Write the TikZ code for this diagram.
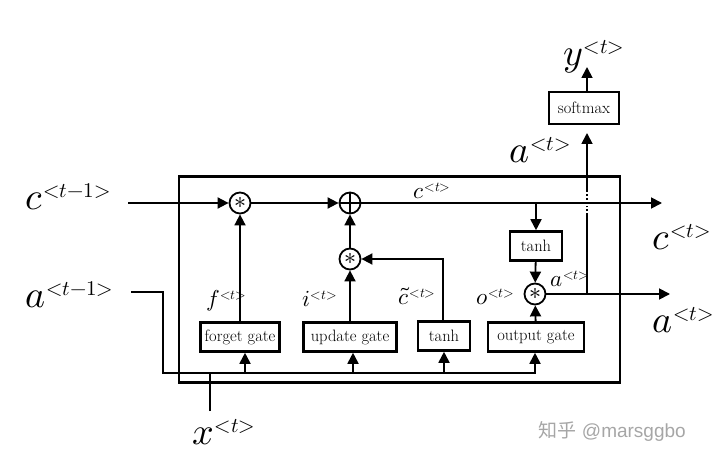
\documentclass[tikz,border=0pt]{standalone}
\usepackage{fontspec}
\usepackage{unicode-math}
\setmathfont{Latin Modern Math}
\newfontfamily\cjk{Noto Sans CJK SC}
\newfontfamily\wmfont{Liberation Sans}
\usetikzlibrary{arrows.meta}
% #1 base size, #2 sup size, #3 raise, #4 base symbol, #5 superscript
\newcommand\lstmlbl[5]{{\fontsize{#1}{#1}\selectfont$#4$}\kern0.08em\raisebox{#3}{\fontsize{#2}{#2}\selectfont${<}#5{>}$}}
\newcommand\biglbl[2]{\lstmlbl{38}{21}{12pt}{#1}{#2}}
\newcommand\smalllbl[2]{\lstmlbl{23}{13.5}{7pt}{#1}{#2}}
\begin{document}
\begin{tikzpicture}[x=1pt,y=-1pt,
  wire/.style={line width=1.8pt},
  arr/.style={wire,-{Triangle[length=11pt,width=11pt]}},
  gatebox/.style={draw,line width=2.6pt,minimum height=29pt,inner sep=1pt,font=\fontsize{16.5}{18}\selectfont},
  op/.style={draw,circle,line width=1.8pt,minimum size=21pt,inner sep=0pt,font=\fontsize{24}{24}\selectfont},
  lbl/.style={anchor=base west,inner sep=0pt}]
\useasboundingbox (0,0) rectangle (720,462);
% main cell box
\node[draw,line width=2.6pt,minimum width=441pt,minimum height=206pt,inner sep=0pt] (cell) at (399.5,279.5) {};
% operators
\node[op] (m1) at (240,203) {$\ast$};
\node[op] (p1) at (350,203) {};
\draw[wire] (p1.north) -- (p1.south) (p1.west) -- (p1.east);
\node[op] (m2) at (350,259) {$\ast$};
\node[op] (m3) at (535,294) {$\ast$};
% gate boxes
\node[gatebox,minimum width=79pt] (fg) at (240,337) {forget gate};
\node[gatebox,minimum width=93pt] (ug) at (350,337) {update gate};
\node[gatebox,minimum width=52pt] (th1) at (444,336) {tanh};
\node[gatebox,minimum width=96pt] (og) at (536,337) {output gate};
\node[gatebox,minimum width=52pt] (th2) at (536,246) {tanh};
\node[gatebox,minimum width=70pt,minimum height=32pt] (sm) at (584,108) {softmax};
% external labels
\node[lbl] (cin) at (25,210) {\biglbl{c}{t{-}1}};
\node[lbl] (ain) at (25,308) {\biglbl{a}{t{-}1}};
\node[lbl] (xin) at (192,444) {\biglbl{x}{t}};
\node[lbl] (cout) at (652,250) {\biglbl{c}{t}};
\node[lbl] (aout) at (652,332) {\biglbl{a}{t}};
\node[lbl] (aup) at (509,163) {\biglbl{a}{t}};
\node[lbl] (yout) at (563,66) {\biglbl{y}{t}};
% internal labels
\node[lbl] (fl) at (206,306) {\smalllbl{f}{t}};
\node[lbl] (il) at (302,306) {\smalllbl{i}{t}};
\node[lbl] (cl) at (398,305) {\smalllbl{\tilde{c}}{t}};
\node[lbl] (ol) at (476,305) {\smalllbl{o}{t}};
\node[lbl] (al) at (550,287) {\smalllbl{a}{t}};
\node[lbl] (cl2) at (413,199) {\smalllbl{c}{t}};
% coordinates
\coordinate (cstart) at (128,203);
\coordinate (cend) at (662,203);
\coordinate (aend) at (670,294);
\coordinate (astart) at (131,292);
\coordinate (acorner) at (163,292);
\coordinate (bl) at (163,373);
\coordinate (br) at (536,373);
\coordinate (xbot) at (210,411);
\coordinate (xtop) at (210,373);
\coordinate (vtap) at (587,294);
\coordinate (vgap1) at (587,215);
\coordinate (vgap2) at (587,190);
\coordinate (smin) at (587,133);
\coordinate (cdrop) at (536,203);
\coordinate (thtap) at (443,321);
\coordinate (thturn) at (443,259);
\coordinate (ytip) at (587,67);
% wires
\draw[arr] (cstart) -- (m1.west);
\draw[arr] (m1) -- (p1);
\draw[arr] (p1) -- (cend);
\draw[arr] (fg) -- (m1);
\draw[arr] (ug) -- (m2);
\draw[arr] (m2) -- (p1);
\draw[arr] (thtap) -- (thturn) -- (m2.east);
\draw[arr] (cdrop) -- (th2);
\draw[arr] (th2) -- (m3);
\draw[arr] (og) -- (m3);
\draw[arr] (m3) -- (aend);
\draw[wire] (vtap) -- (vgap1);
\draw[wire,dotted] (vgap1) -- (vgap2);
\draw[arr] (vgap2) -- (smin);
\draw[arr] (sm.north -| ytip) -- (ytip);
\draw[wire] (astart) -- (acorner) -- (bl) -- (br);
\draw[wire] (xbot) -- (xtop);
\draw[arr] (bl -| fg) ++(5,0) -- ([xshift=5pt]fg.south);
\draw[arr] (bl -| ug) ++(3,0) -- ([xshift=3pt]ug.south);
\draw[arr] (bl -| th1) -- (th1.south);
\draw[arr] (bl -| m3) -- (og.south -| m3);
% watermark
\node[text=black!35,font=\fontsize{19}{21}\selectfont] (wm) at (612,431) {{\cjk 知乎} {\wmfont @marsggbo}};
\end{tikzpicture}
\end{document}
